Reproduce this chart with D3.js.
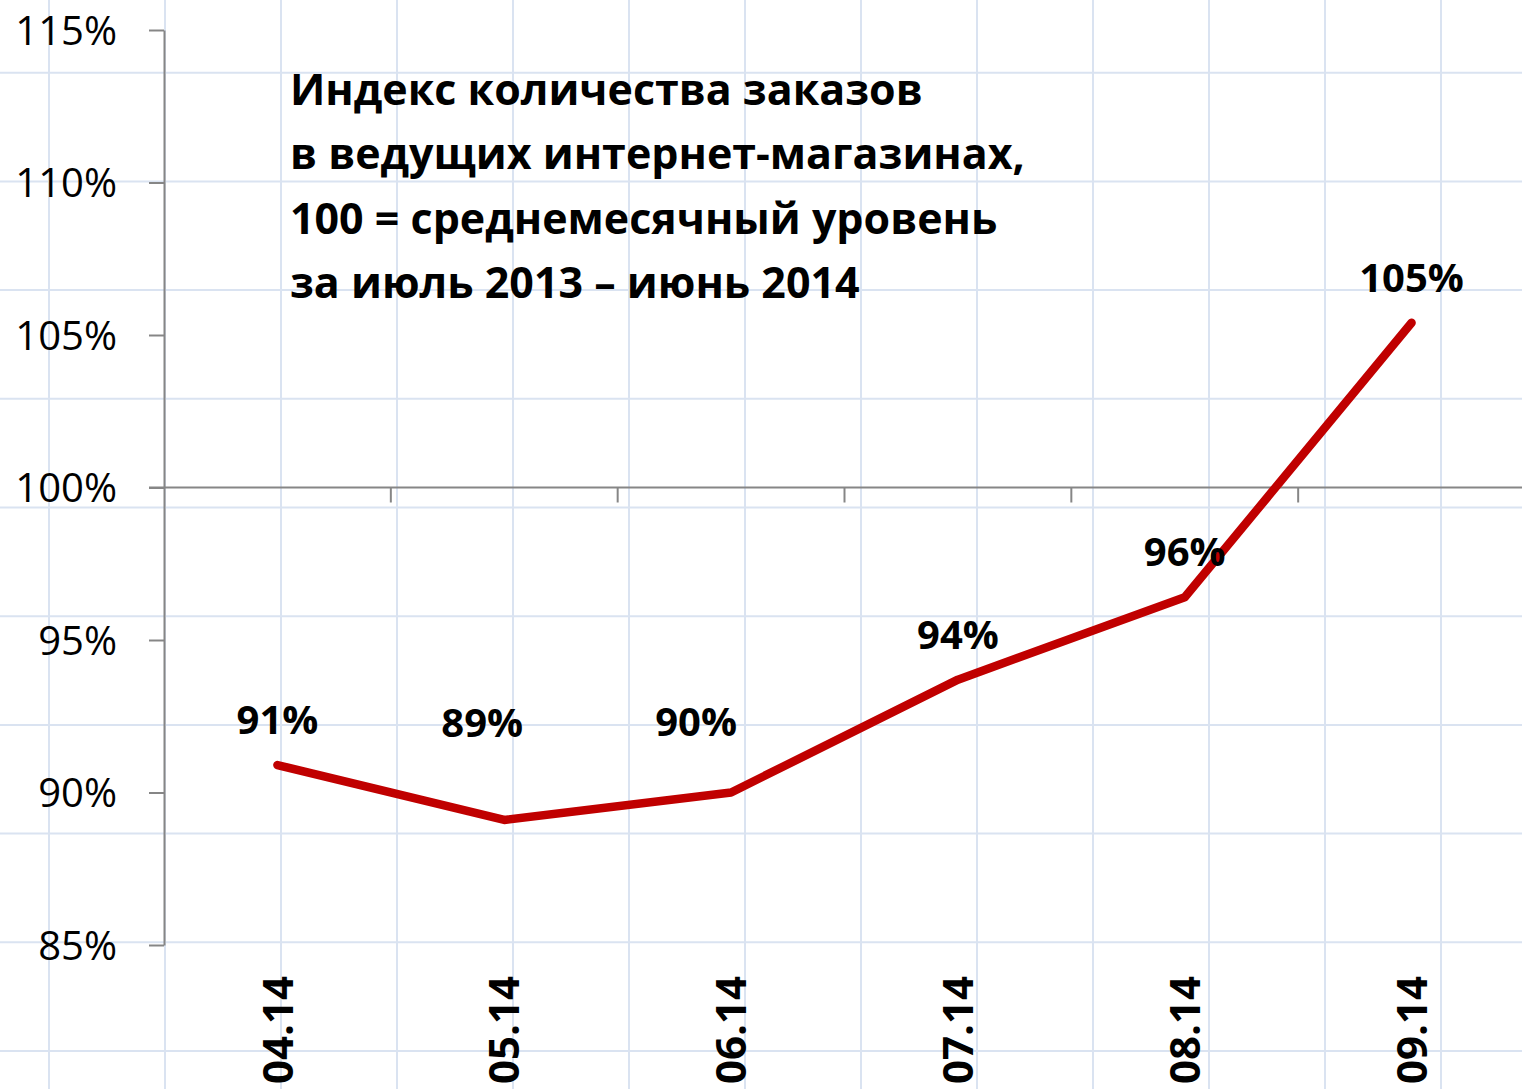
<!DOCTYPE html>
<html>
<head>
<meta charset="utf-8">
<script src="https://cdn.jsdelivr.net/npm/d3@7"></script>
<style>
  html, body { margin: 0; padding: 0; background: #fff; }
  svg { display: block; }
  text { font-family: "Open Sans", "Noto Sans", sans-serif; fill: #000; }
</style>
</head>
<body>
<svg id="chart" width="1522" height="1089"></svg>
<script>
// данные
var months = ['04.14', '05.14', '06.14', '07.14', '08.14', '09.14'];
var values = [90.9, 89.1, 90.0, 93.7, 96.4, 105.4];
var valueLabels = ['91%', '89%', '90%', '94%', '96%', '105%'];
var yTicks = [85, 90, 95, 100, 105, 110, 115];
var titleLines = [
  'Индекс количества заказов',
  'в ведущих интернет-магазинах,',
  '100 = среднемесячный уровень',
  'за июль 2013 – июнь 2014'
];
// сдвиг подписей, как в оригинале (px)
var labelShift = [[0, 0], [-22, -52], [-35, -26], [0, 0], [0, 0], [0, 0]];

var W = 1522, H = 1089;
var svg = d3.select('#chart');

// сетка листа excel на фоне
var cellW = 116, cellH = 108.7;
var grid = svg.append('g').attr('stroke', '#dae3f1').attr('stroke-width', 2);
grid.selectAll('.gv').data(d3.range(49, W, cellW)).enter().append('line')
  .attr('x1', function(d){ return d; }).attr('x2', function(d){ return d; })
  .attr('y1', 0).attr('y2', H);
grid.selectAll('.gh').data(d3.range(72.7 - cellH, H, cellH)).enter().append('line')
  .attr('y1', function(d){ return d; }).attr('y2', function(d){ return d; })
  .attr('x1', 0).attr('x2', W);

var x = d3.scaleBand().domain(months).range([164, 1525]).padding(0);
var y = d3.scaleLinear().domain([85, 115]).range([945, 30]);
var cx = function(d){ return x(d) + x.bandwidth() / 2; };

var axisColor = '#868686';

// ось Y
var gy = svg.append('g')
  .attr('transform', 'translate(164,0)')
  .call(d3.axisLeft(y).tickValues(yTicks).tickSize(15).tickSizeOuter(0).tickPadding(32)
    .tickFormat(function(d){ return d + '%'; }));
gy.select('.domain').attr('stroke', axisColor).attr('stroke-width', 2);
gy.selectAll('.tick line').attr('stroke', axisColor).attr('stroke-width', 2);
gy.selectAll('.tick text')
  .attr('font-family', '"Open Sans", sans-serif')
  .attr('font-size', 40).attr('fill', '#000').attr('dy', '0.36em');

// ось X на уровне 100%
var y100 = y(100);
var gx = svg.append('g');
gx.append('line')
  .attr('x1', 149).attr('x2', W).attr('y1', y100).attr('y2', y100)
  .attr('stroke', axisColor).attr('stroke-width', 2);
gx.selectAll('.xt').data(months.slice(1)).enter().append('line')
  .attr('x1', function(d){ return x(d); }).attr('x2', function(d){ return x(d); })
  .attr('y1', y100).attr('y2', y100 + 15)
  .attr('stroke', axisColor).attr('stroke-width', 2);

// подписи месяцев, повёрнутые
svg.selectAll('.xl').data(months).enter().append('text')
  .attr('transform', function(d){ return 'translate(' + cx(d) + ',976) rotate(-90)'; })
  .attr('text-anchor', 'end')
  .attr('dy', '0.36em')
  .attr('font-size', 42).attr('font-weight', 'bold')
  .text(function(d){ return d; });

// линия
var line = d3.line()
  .x(function(d, i){ return cx(months[i]); })
  .y(function(d){ return y(d); });

svg.append('path')
  .datum(values)
  .attr('d', line)
  .attr('fill', 'none')
  .attr('stroke', '#c00000')
  .attr('stroke-width', 8.5)
  .attr('stroke-linecap', 'round')
  .attr('stroke-linejoin', 'round');

// подписи значений
svg.selectAll('.vl').data(values).enter().append('text')
  .attr('x', function(d, i){ return cx(months[i]) + labelShift[i][0]; })
  .attr('y', function(d, i){ return y(d) - 31 + labelShift[i][1]; })
  .attr('text-anchor', 'middle')
  .attr('font-size', 40).attr('font-weight', 'bold')
  .text(function(d, i){ return valueLabels[i]; });

// заголовок
var title = svg.append('g');
var tl = title.selectAll('text').data(titleLines).enter().append('text')
  .attr('x', 290)
  .attr('y', function(d, i){ return 105 + i * 64.3; })
  .attr('font-size', 44).attr('font-weight', 'bold')
  .text(function(d){ return d; });
// подгоняем размер под ширину второй строки (~735px)
var w2 = tl.nodes()[1].getComputedTextLength();
tl.attr('font-size', 44 * 735 / w2);
</script>
</body>
</html>
